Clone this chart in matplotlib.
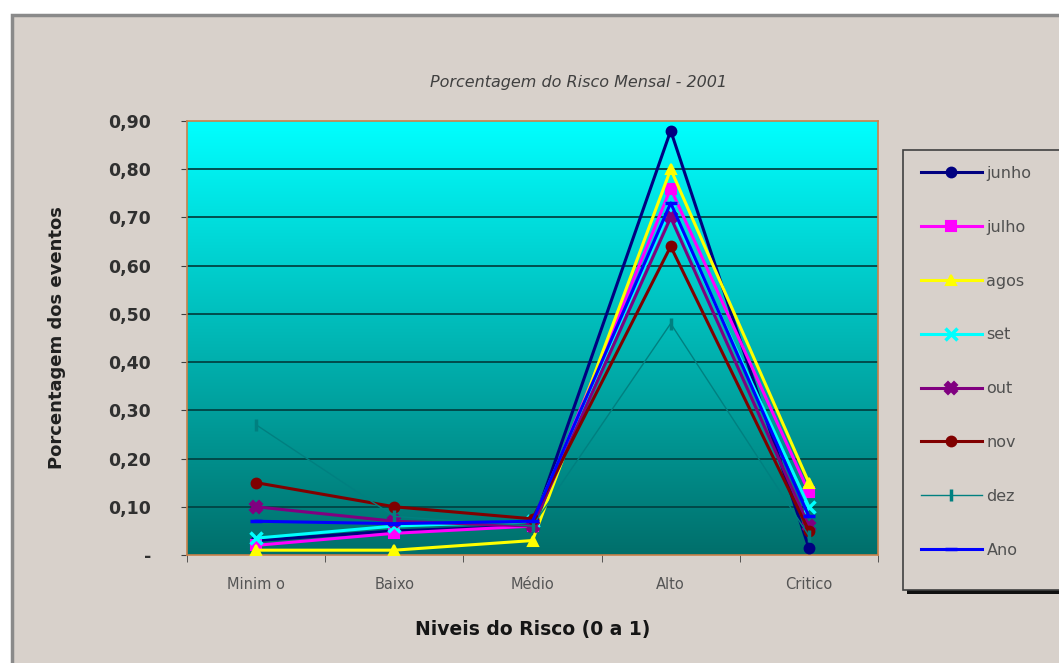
import numpy as np
import matplotlib
matplotlib.use("Agg")
import matplotlib.pyplot as plt
from matplotlib.patches import Rectangle
from matplotlib.colors import LinearSegmentedColormap

categories = ["Minim o", "Baixo", "Médio", "Alto", "Critico"]
series_names = ["junho", "julho", "agos", "set", "out", "nov", "dez", "Ano"]
junho = [0.03, 0.05, 0.06, 0.88, 0.015]
julho = [0.02, 0.045, 0.06, 0.76, 0.13]
agos = [0.01, 0.01, 0.03, 0.80, 0.15]
set_ = [0.035, 0.06, 0.07, 0.72, 0.10]
out = [0.10, 0.07, 0.06, 0.70, 0.06]
nov = [0.15, 0.10, 0.075, 0.64, 0.05]
dez = [0.27, 0.08, 0.06, 0.48, 0.04]
ano = [0.07, 0.065, 0.07, 0.73, 0.08]
yticks = [0.0, 0.1, 0.2, 0.3, 0.4, 0.5, 0.6, 0.7, 0.8, 0.9]
ytick_labels = ["-", "0,10", "0,20", "0,30", "0,40", "0,50", "0,60", "0,70", "0,80", "0,90"]

values = [junho, julho, agos, set_, out, nov, dez, ano]
colors = ["#000080", "#FF00FF", "#FFFF00", "#00FFFF", "#800080", "#800000", "#008080", "#0000FF"]
markers = ["o", "s", "^", "x", "X", "o", "|", "_"]
lws = [2.2, 2.2, 2.2, 2.2, 2.2, 2.2, 1.0, 2.2]

W, H = 1059, 663
fig = plt.figure(figsize=(W / 100, H / 100), dpi=100)
fig.patch.set_facecolor("white")
bg = "#d8d1cb"
fig.patches.append(Rectangle((12 / W, -0.01), 1.02, 1 - 15 / H + 0.01, transform=fig.transFigure,
                             facecolor=bg, edgecolor="#8a8a8a", linewidth=2.5, zorder=-10))

ax = fig.add_axes([187 / W, 1 - 555 / H, 691 / W, 434 / H])
ax.set_zorder(5)
ax.set_xlim(-0.5, 4.5)
ax.set_ylim(0, 0.9)
cmap = LinearSegmentedColormap.from_list("g", ["#006f6b", "#00ffff"])
grad = np.linspace(0, 1, 256).reshape(-1, 1)
ax.imshow(grad, cmap=cmap, origin="lower", aspect="auto", extent=[-0.5, 4.5, 0, 0.9], zorder=0)
for yv in yticks[1:-1]:
    ax.axhline(yv, color="#004444", lw=1.3, zorder=1)

x = np.arange(len(categories))
handles = []
for name, vals, c, m, lw in zip(series_names, values, colors, markers, lws):
    ms = 7 if m in ("o", "s", "^") else 8
    h, = ax.plot(x, vals, color=c, lw=lw, marker=m, markersize=ms, markeredgecolor=c,
                 markerfacecolor=c, markeredgewidth=1.5 if m not in ("x", "|", "_") else 2.5,
                 label=name, zorder=3)
    handles.append(h)

for s in ax.spines.values():
    s.set_color("#c8814a")
    s.set_linewidth(1.2)
ax.set_yticks(yticks)
ax.set_yticklabels(ytick_labels, fontsize=12.5, fontweight="bold", color="#303030")
ax.set_xticks(x)
ax.set_xticklabels(categories, fontsize=10.5, color="#555555")
ax.set_xticks(np.arange(-0.5, 5, 1), minor=True)
ax.tick_params(axis="x", which="major", length=0, pad=16)
ax.tick_params(axis="x", which="minor", length=5, color="#404040")
ax.tick_params(axis="y", length=4, color="#404040", pad=22)

ax.set_ylabel("Porcentagem dos eventos", fontsize=13, fontweight="bold", color="#202020", labelpad=30)
ax.set_xlabel("Niveis do Risco (0 a 1)", fontsize=13.5, fontweight="bold", color="#151515", labelpad=20)
fig.text(578 / W, 1 - 83 / H, "Porcentagem do Risco Mensal - 2001", ha="center", va="center",
         fontsize=11.5, style="italic", color="#404040")

# legend box with shadow
fig.patches.append(Rectangle((907 / W, 1 - 594 / H), 0.2, (594 - 154) / H, transform=fig.transFigure,
                             facecolor="#101010", edgecolor="none", zorder=1))
fig.patches.append(Rectangle((903 / W, 1 - 590 / H), 0.2, (590 - 150) / H, transform=fig.transFigure,
                             facecolor=bg, edgecolor="#404040", linewidth=1.2, zorder=2))

leg = fig.legend(handles=handles, loc="upper left", bbox_to_anchor=(921 / W, 1 - 166 / H),
                 bbox_transform=fig.transFigure, frameon=False, fontsize=11.5, labelspacing=2.43,
                 handlelength=3.8, handletextpad=0.3, borderpad=0, borderaxespad=0)
leg.set_zorder(3)
for t in leg.get_texts():
    t.set_color("#505050")

fig.savefig("out.png", dpi=100, facecolor=fig.get_facecolor())
